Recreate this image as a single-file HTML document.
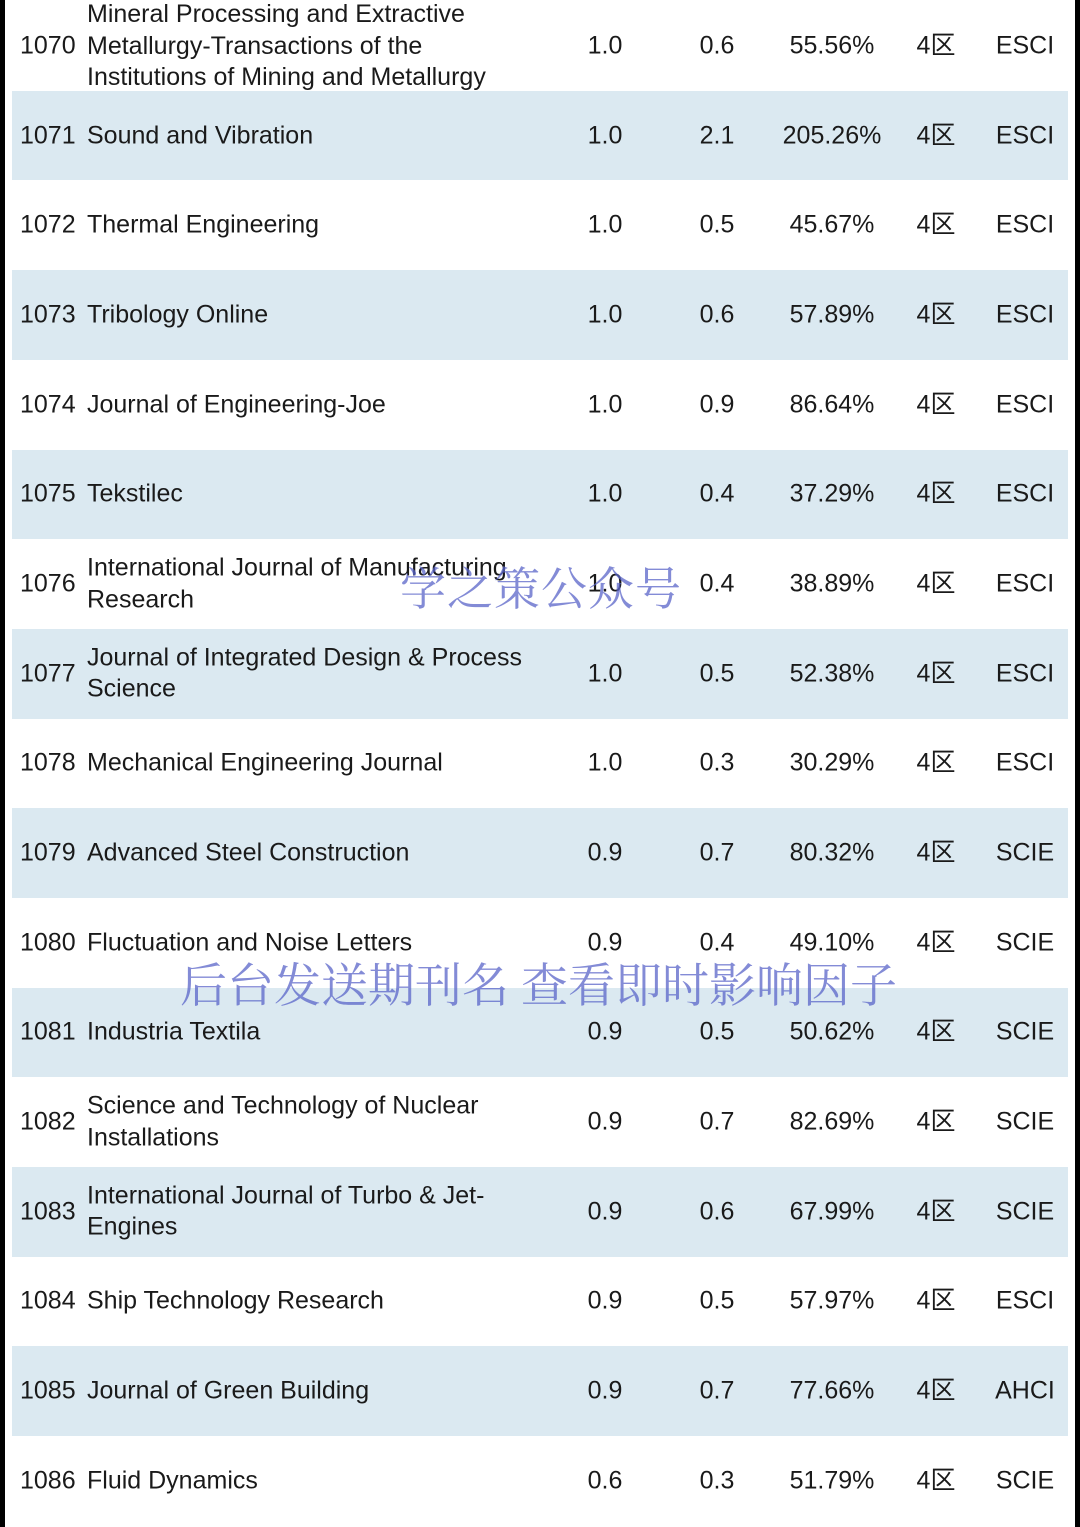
<!DOCTYPE html>
<html><head><meta charset="utf-8">
<style>
html,body{margin:0;padding:0;background:#fff;}
#page{position:relative;width:1080px;height:1527px;overflow:hidden;background:#fff;font-family:"Liberation Sans","Noto Sans CJK SC",sans-serif;color:#1a1a1a;font-size:25px;}
.border{position:absolute;top:0;width:5px;height:1527px;background:#000;}
.band{position:absolute;left:12px;width:1056px;background:#dbe9f1;}
.cell{position:absolute;white-space:nowrap;line-height:31.5px;transform:translateY(-50%);}
.c{text-align:center;width:120px;margin-left:-60px;}
.wm{position:absolute;font-family:"Noto Serif CJK SC","Liberation Serif",serif;color:rgba(90,100,200,0.75);white-space:nowrap;}
</style></head>
<body>
<div id="page">
<div class="border" style="left:0"></div>
<div class="border" style="left:1075px"></div>
</div>
<script>
const ranks=["1070","1071","1072","1073","1074","1075","1076","1077","1078","1079","1080","1081","1082","1083","1084","1085","1086"];
const titles=[["Mineral Processing and Extractive","Metallurgy-Transactions of the","Institutions of Mining and Metallurgy"],["Sound and Vibration"],["Thermal Engineering"],["Tribology Online"],["Journal of Engineering-Joe"],["Tekstilec"],["International Journal of Manufacturing","Research"],["Journal of Integrated Design & Process","Science"],["Mechanical Engineering Journal"],["Advanced Steel Construction"],["Fluctuation and Noise Letters"],["Industria Textila"],["Science and Technology of Nuclear","Installations"],["International Journal of Turbo & Jet-","Engines"],["Ship Technology Research"],["Journal of Green Building"],["Fluid Dynamics"]];
const ifs=["1.0","1.0","1.0","1.0","1.0","1.0","1.0","1.0","1.0","0.9","0.9","0.9","0.9","0.9","0.9","0.9","0.6"];
const ifNow=["0.6","2.1","0.5","0.6","0.9","0.4","0.4","0.5","0.3","0.7","0.4","0.5","0.7","0.6","0.5","0.7","0.3"];
const pcts=["55.56%","205.26%","45.67%","57.89%","86.64%","37.29%","38.89%","52.38%","30.29%","80.32%","49.10%","50.62%","82.69%","67.99%","57.97%","77.66%","51.79%"];
const zones=["4区","4区","4区","4区","4区","4区","4区","4区","4区","4区","4区","4区","4区","4区","4区","4区","4区"];
const indexes=["ESCI","ESCI","ESCI","ESCI","ESCI","ESCI","ESCI","ESCI","ESCI","SCIE","SCIE","SCIE","SCIE","SCIE","ESCI","AHCI","SCIE"];

const page=document.getElementById('page');
const rowH=89.67, y0=46;
function add(cls,txt,x,y,name){
  const d=document.createElement('div');
  d.className=cls; d.innerHTML=txt; d.style.left=x+'px'; d.style.top=y+'px';
  
  
  page.appendChild(d); return d;
}
ranks.forEach((r,i)=>{
  const cy=y0+i*rowH;
  if(i%2===1){
    const b=document.createElement('div');
    b.className='band';
    b.style.top=(cy-rowH/2)+'px'; b.style.height=rowH+'px';
    
    
    page.insertBefore(b,page.firstChild);
  }
  add('cell',r,20,cy,'rank-cell');
  add('cell',titles[i].join('<br>'),87,cy,'journal-title');
  add('cell c',ifs[i],605,cy,'impact-factor');
  add('cell c',ifNow[i],717,cy,'realtime-if');
  add('cell c',pcts[i],832,cy,'growth-percent');
  add('cell c',zones[i],936,cy,'zone');
  add('cell c',indexes[i],1025,cy,'index-type');
});
const w1=add('wm','学之策公众号',400,553,'watermark-top');
w1.style.fontSize='46px'; w1.style.letterSpacing='1px';
const w2=add('wm','后台发送期刊名 查看即时影响因子',180,949,'watermark-bottom');
w2.style.fontSize='47px';
</script>
</body></html>
